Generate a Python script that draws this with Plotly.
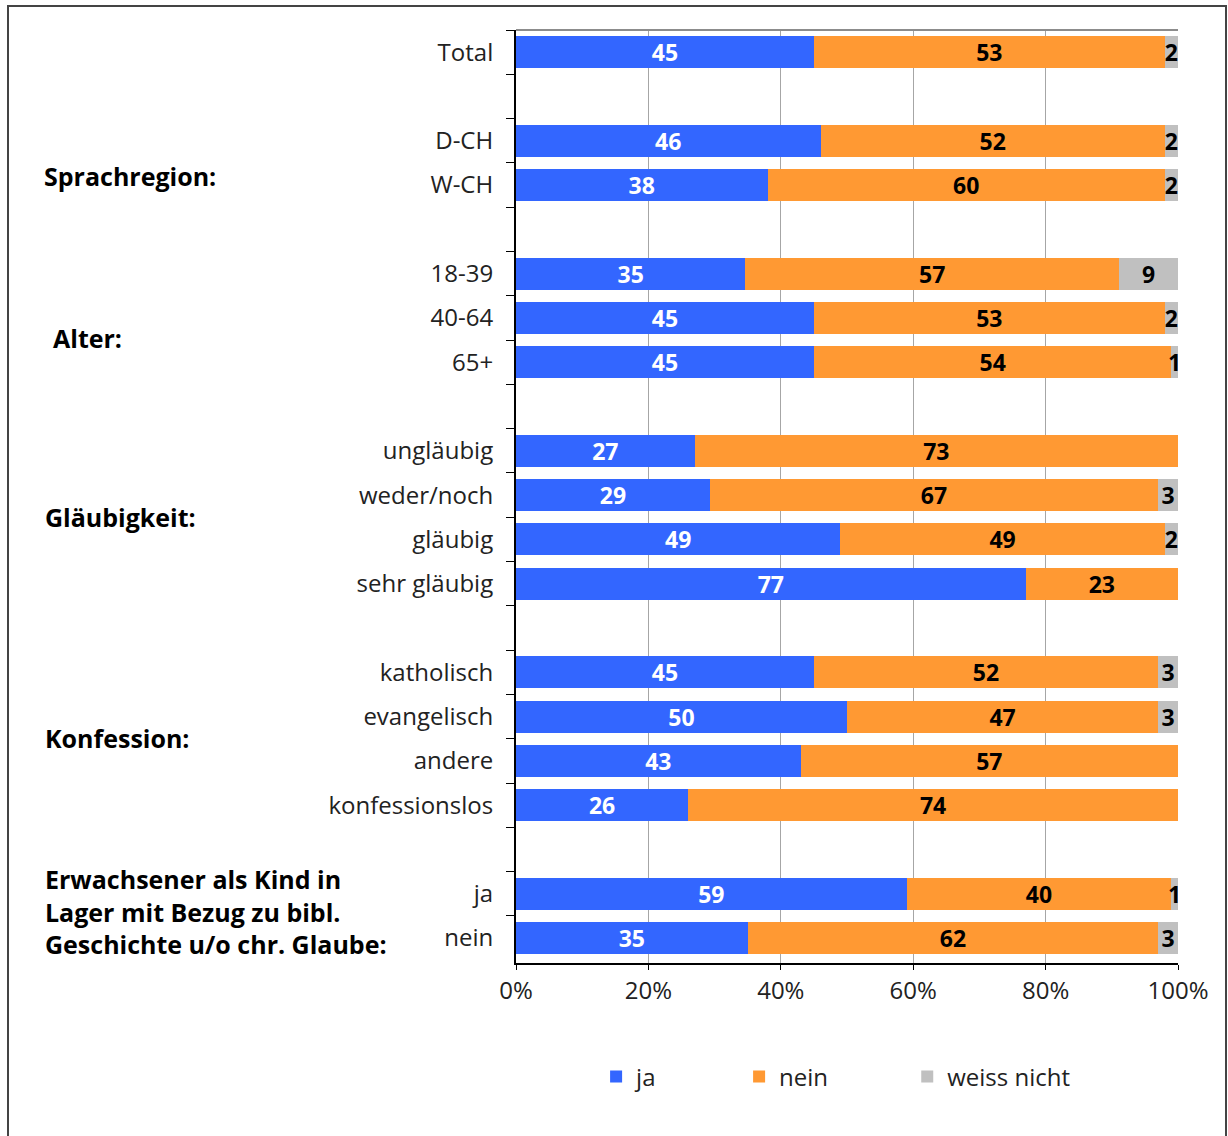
import plotly.graph_objects as go

categories = ["Total", " ", "D-CH", "W-CH", "  ", "18-39", "40-64", "65+", "   ",
              "ungläubig", "weder/noch", "gläubig", "sehr gläubig", "    ",
              "katholisch", "evangelisch", "andere", "konfessionslos", "     ",
              "ja", "nein"]
ja =          [45, None, 46, 38, None, 35, 45, 45, None, 27, 29, 49, 77, None, 45, 50, 43, 26, None, 59, 35]
nein =        [53, None, 52, 60, None, 57, 53, 54, None, 73, 67, 49, 23, None, 52, 47, 57, 74, None, 40, 62]
weiss_nicht = [2, None, 2, 2, None, 9, 2, 1, None, 0, 3, 2, 0, None, 3, 3, 0, 0, None, 1, 3]

series_names = ["ja", "nein", "weiss nicht"]
series_values = [ja, nein, weiss_nicht]
series_colors = ["#3366FF", "#FF9933", "#C0C0C0"]
text_colors = ["white", "black", "black"]
legend_ids = ["legend", "legend2", "legend3"]
legend_x = [0.121, 0.337, 0.591]

group_labels = ["Sprachregion:", "Alter:", "Gläubigkeit:", "Konfession:",
                "Erwachsener als Kind in<br>Lager mit Bezug zu bibl.<br>Geschichte u/o chr. Glaube:"]
group_label_pos = [2.79, 6.46, 10.5, 15.48, 19.4]
group_label_x = [-0.716, -0.703, -0.714, -0.714, -0.714]

FONT = "Open Sans"

fig = go.Figure()
for name, vals, col, tcol, lid in zip(series_names, series_values, series_colors, text_colors, legend_ids):
    txt = ["" if (v is None or v == 0) else str(v) for v in vals]
    fig.add_trace(go.Bar(
        y=categories, x=vals, name=name, orientation="h",
        marker=dict(color=col, line=dict(width=0)),
        text=txt, textposition="inside", insidetextanchor="middle",
        constraintext="none", textangle=0,
        textfont=dict(family=FONT, size=23, color=tcol, weight="bold"),
        hoverinfo="skip", legend=lid,
    ))

legend_common = dict(orientation="h", y=-0.122, xanchor="left", yanchor="middle",
                     font=dict(size=24, family=FONT, color="#222222"), itemwidth=30,
                     bgcolor="rgba(0,0,0,0)")

fig.update_layout(
    barmode="stack", barnorm="percent", bargap=0.28,
    width=1228, height=1136,
    margin=dict(l=516, r=50, t=30, b=173),
    paper_bgcolor="white", plot_bgcolor="white",
    font=dict(family=FONT, size=24, color="#222222"),
    showlegend=True,
    legend=dict(x=legend_x[0], **legend_common),
    legend2=dict(x=legend_x[1], **legend_common),
    legend3=dict(x=legend_x[2], **legend_common),
)
fig.update_xaxes(range=[0, 100], tickvals=[0, 20, 40, 60, 80, 100],
                 ticktext=["0%", "20%", "40%", "60%", "80%", "100%"],
                 showgrid=True, gridcolor="#A6A6A6", gridwidth=1,
                 showline=True, linecolor="black", linewidth=2,
                 ticks="outside", ticklen=5, tickcolor="black",
                 tickfont=dict(size=24, family=FONT), zeroline=False, fixedrange=True)
fig.update_yaxes(categoryorder="array", categoryarray=categories, autorange="reversed",
                 showline=True, linecolor="black", linewidth=2,
                 ticks="outside", ticklen=8, tickcolor="black", tickson="boundaries",
                 showgrid=False, tickfont=dict(size=24, family=FONT),
                 ticklabelstandoff=16, fixedrange=True)

# top border of plot area
fig.add_shape(type="line", xref="paper", yref="paper", x0=0, x1=1, y0=1, y1=1,
              line=dict(color="#8C8C8C", width=2))
# outer frame
fig.add_shape(type="rect", xref="paper", yref="paper",
              x0=(8 - 516) / 662, x1=(1226 - 516) / 662, y0=-0.2, y1=1 + 24 / 933,
              line=dict(color="#444444", width=2), layer="below")

for lbl, yp, xp in zip(group_labels, group_label_pos, group_label_x):
    fig.add_annotation(text="<b>" + lbl + "</b>", xref="paper", x=xp, yref="y", y=yp,
                       xanchor="left", yanchor="middle", align="left", showarrow=False,
                       font=dict(size=25, family=FONT, color="black"))

fig.write_html("out.html")
